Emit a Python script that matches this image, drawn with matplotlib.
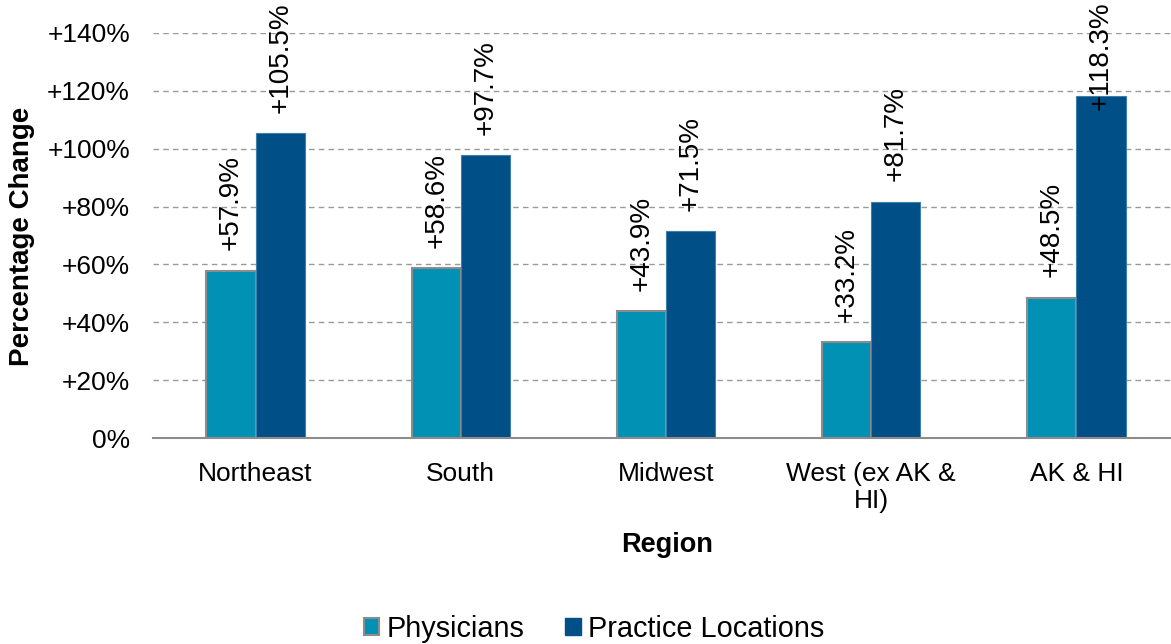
import matplotlib
matplotlib.use("Agg")
import matplotlib.pyplot as plt
import numpy as np
from matplotlib.patches import Patch

plt.rcParams['font.family'] = ['Liberation Sans', 'DejaVu Sans']

regions = ["Northeast", "South", "Midwest", "West (ex AK &\nHI)", "AK & HI"]
physicians = [57.9, 58.6, 43.9, 33.2, 48.5]
practice_locations = [105.5, 97.7, 71.5, 81.7, 118.3]
series_names = ["Physicians", "Practice Locations"]
yticks = [0, 20, 40, 60, 80, 100, 120, 140]
ytick_labels = ["0%", "+20%", "+40%", "+60%", "+80%", "+100%", "+120%", "+140%"]

c_phys = "#0091B5"
c_prac = "#004F87"

W, H = 1171, 644
fig = plt.figure(figsize=(W / 100, H / 100), dpi=100)
ax_left, ax_right = 153, 1179
ax_top, ax_bottom = 33, 438
ax = fig.add_axes([ax_left / W, 1 - ax_bottom / H, (ax_right - ax_left) / W, (ax_bottom - ax_top) / H])

x = np.arange(len(regions))
bw = 0.24
ax.bar(x - bw / 2, physicians, bw, color=c_phys, edgecolor="#8C8C8C", linewidth=1.5, zorder=3)
ax.bar(x + bw / 2, practice_locations, bw, color=c_prac, edgecolor="#3F7FA8", linewidth=0.8, zorder=3)

ax.set_xlim(-0.5, len(regions) - 0.5)
ax.set_ylim(0, 140)
ax.set_yticks(yticks)
ax.set_yticklabels(ytick_labels, fontsize=19)
ax.set_xticks(x)
ax.set_xticklabels(regions, fontsize=19, linespacing=1.2)
ax.tick_params(axis='y', length=0, pad=16.5)
ax.tick_params(axis='x', length=0, pad=17)

for s in ["left", "right", "top"]:
    ax.spines[s].set_visible(False)
ax.spines["bottom"].set_color("#8C8C8C")
ax.spines["bottom"].set_linewidth(1.5)
ax.spines["bottom"].set_zorder(4)

ax.yaxis.grid(True, linestyle=(0, (4, 3)), color="#9A9A9A", linewidth=1.0, zorder=0)
ax.set_axisbelow(True)

def label_bars(xs, vals):
    for xi, v in zip(xs, vals):
        yb = min(v + 7.0, 113.5)
        ax.text(xi, yb, f"+{v:.1f}%", rotation=90, ha="center", va="bottom",
                fontsize=20, zorder=5, clip_on=False)

label_bars(x - bw / 2, physicians)
label_bars(x + bw / 2, practice_locations)

fig.text(22 / W, 1 - 236 / H, "Percentage Change", rotation=90, ha="center", va="center",
         fontsize=20, fontweight="bold")
fig.text(667 / W, 1 - 545 / H, "Region", ha="center", va="center", fontsize=19.5, fontweight="bold")

handles = [Patch(facecolor=c_phys, edgecolor="#8C8C8C", linewidth=1.5),
           Patch(facecolor=c_prac, edgecolor=c_prac)]
fig.legend(handles, series_names, loc="center", bbox_to_anchor=(594 / W, 1 - 629 / H),
           ncol=2, frameon=False, fontsize=20.8, handlelength=0.55, handleheight=0.55,
           handletextpad=0.25, columnspacing=1.4, borderpad=0)

fig.savefig("out.png", dpi=100)
